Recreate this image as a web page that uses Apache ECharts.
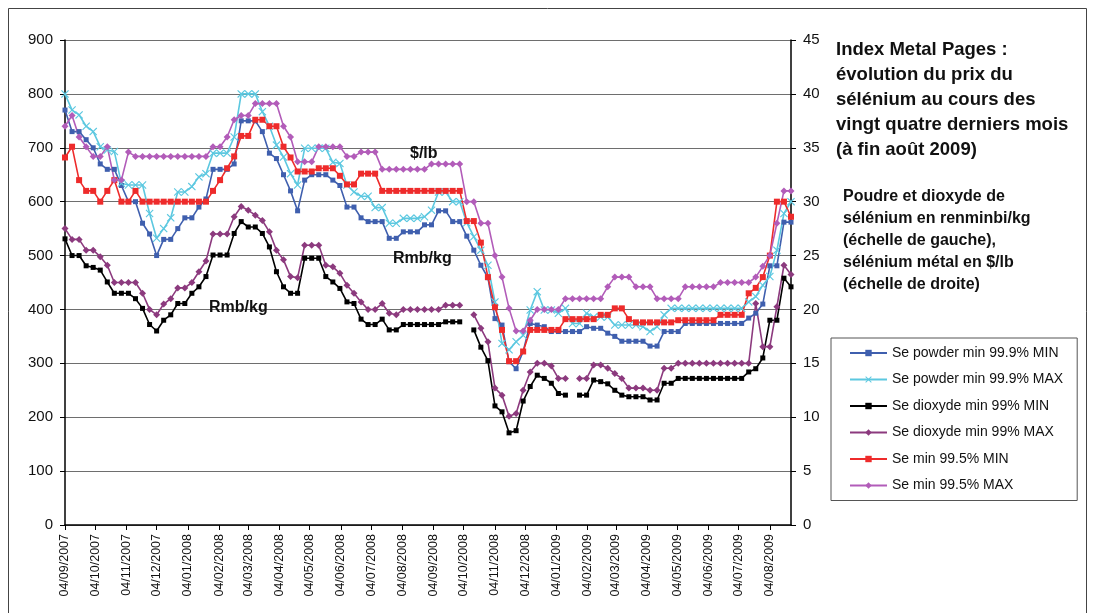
<!DOCTYPE html>
<html>
<head>
<meta charset="utf-8">
<script src="https://cdn.jsdelivr.net/npm/echarts@6/dist/echarts.min.js"></script>
<style>
  html, body { margin: 0; padding: 0; background: #ffffff; }
  #chart { width: 1095px; height: 613px; }
</style>
</head>
<body>
<div id="chart"></div>
<script>
// Weekly selenium quotations, first week 04/09/2007, one value per week.
// Rmb/kg (left scale)
const powderMin = [770,730,730,715,700,670,660,660,630,600, 600,560,540,500,530,530,550,570,570,590,
  605,660,660,660,670,750,750,750,730,690, 680,650,620,583,640,650,650,650,640,630,
  590,590,570,563,563,563,532,532,544,544, 544,557,557,583,583,563,563,536,510,482,
  459,383,371,303,290,322,374,371,368,359, 359,359,359,359,368,365,365,356,350,341,
  341,341,341,332,332,359,359,359,374,374, 374,374,374,374,374,374,374,384,393,410,
  481,481,562,562];
const powderMax = [800,770,761,740,730,702,696,693,634,631, 631,631,578,532,550,570,618,618,628,646,
  652,690,690,690,720,800,800,800,767,740, 705,683,652,631,699,699,699,699,673,671,
  631,618,610,610,589,589,560,560,569,569, 569,572,584,618,618,600,600,561,535,510,
  482,414,337,325,340,352,399,433,399,399, 393,402,374,374,393,386,386,386,371,371,
  371,371,368,359,368,390,402,402,402,402, 402,402,402,402,402,402,402,414,424,445,
  461,510,578,600];
const dioxideMin = [531,500,500,481,478,473,451,430,430,430, 420,402,372,360,380,390,411,411,430,442,
  461,501,501,501,541,563,553,553,541,516, 470,442,430,430,495,495,495,461,451,439,
  414,411,382,372,372,382,362,362,372,372, 372,372,372,372,377,377,377,null,362,330,
  305,221,210,171,175,230,257,278,272,263, 244,241,null,241,241,269,266,262,250,241,
  238,238,238,232,232,263,263,272,272,272, 272,272,272,272,272,272,272,284,290,310,
  380,380,458,442];
const dioxideMax = [550,530,530,510,510,498,482,450,450,450, 450,430,400,390,410,420,440,440,450,470,
  490,540,540,540,572,591,584,575,565,544, 510,492,461,459,519,519,519,482,479,467,
  445,430,414,400,400,411,393,390,400,400, 400,400,400,400,408,408,408,null,390,365,
  340,254,241,202,207,250,284,300,300,295, 272,272,null,272,272,297,297,291,281,272,
  254,254,254,250,250,291,291,300,300,300, 300,300,300,300,300,300,300,300,411,331,
  331,405,482,465];
// $/lb (right scale)
const metalMin = [34.1,35.1,32,31,31,30,31,32,30,30, 31,30,30,30,30,30,30,30,30,30,
  30,31,32,33.1,34.2,36.1,36.1,37.6,37.6,37, 37,35.1,34.1,32.8,32.8,32.8,33.1,33.1,33.1,32.4,
  31.6,31.6,32.6,32.6,32.6,31,31,31,31,31, 31,31,31,31,31,31,31,28.2,28.2,26.2,
  23,20.2,18.1,15.2,15.2,16.1,18.1,18.1,18.1,18.1, 18.1,19.1,19.1,19.1,19.1,19.1,19.5,19.5,20.1,20.1,
  19.1,18.8,18.8,18.8,18.8,18.8,18.8,19,19,19, 19,19,19,19.5,19.5,19.5,19.5,21.5,22,23,
  25,30,30,28.6];
const metalMax = [37,38,36,35.1,34.2,34.2,35.1,32,32,34.6, 34.2,34.2,34.2,34.2,34.2,34.2,34.2,34.2,34.2,34.2,
  34.2,35.1,35.1,36,37.6,38,38,39.1,39.1,39.1, 39.1,37,36,33.7,33.7,33.7,35.1,35.1,35.1,35.1,
  34.2,34.2,34.6,34.6,34.6,33,33,33,33,33, 33,33,33.5,33.5,33.5,33.5,33.5,30,30,28,
  28,25,23,20.1,18,18,19,20,20,20, 20,21,21,21,21,21,21,22.1,23,23,
  23,22.1,22.1,22.1,21,21,21,21,22.1,22.1, 22.1,22.1,22.1,22.5,22.5,22.5,22.5,22.5,23,24,
  25,28,31,31];

const seriesNames = [
  'Se powder min 99.9% MIN', 'Se powder min 99.9% MAX',
  'Se dioxyde min 99% MIN', 'Se dioxyde min 99% MAX',
  'Se min 99.5% MIN', 'Se min 99.5% MAX'
];
const leftTicks = { min: 0, max: 900, step: 100 };
const rightTicks = { min: 0, max: 45, step: 5 };

// Daily date axis: 04/09/2007 .. last weekly quotation
const FIRST_DAY = Date.UTC(2007, 8, 4);
const DAY_MS = 86400000;
const pad = n => (n < 10 ? '0' : '') + n;
function dayLabel(n) {
  const d = new Date(FIRST_DAY + n * DAY_MS);
  return pad(d.getUTCDate()) + '/' + pad(d.getUTCMonth() + 1) + '/' + d.getUTCFullYear();
}
const days = [];
for (let n = 0; n <= (powderMin.length - 1) * 7; n++) days.push(dayLabel(n));
const monthly = (idx, val) => val.slice(0, 3) === '04/';

// weekly values -> [day index, value]
const weekly = values => values.map((v, i) => [i * 7, v == null ? '-' : v]);

const FONT = '"Liberation Sans", Arial, sans-serif';
const CROSS = 'path://M0,1L1,0L5,4L9,0L10,1L6,5L10,9L9,10L5,6L1,10L0,9L4,5Z';

function line(name, values, color, symbol, size, axis) {
  return {
    name, type: 'line', yAxisIndex: axis, data: weekly(values),
    symbol, symbolSize: size, showAllSymbol: true, connectNulls: false,
    lineStyle: { color, width: 1.6 },
    itemStyle: { color, borderWidth: 0 },
    emphasis: { disabled: true }, z: 3
  };
}

const chart = echarts.init(document.getElementById('chart'), null, { renderer: 'canvas' });
chart.setOption({
  animation: false,
  backgroundColor: '#ffffff',
  textStyle: { fontFamily: FONT },
  grid: { left: 65, right: 304, top: 40, bottom: 88 },
  xAxis: {
    type: 'category', data: days, boundaryGap: false,
    axisLine: { lineStyle: { color: '#000', width: 1.5 } },
    axisTick: { interval: monthly, length: 5, lineStyle: { color: '#000' } },
    axisLabel: { interval: monthly, rotate: 90, margin: 9, fontSize: 12.5, color: '#111', fontFamily: FONT },
    splitLine: { show: false }
  },
  yAxis: [
    {
      type: 'value', min: leftTicks.min, max: leftTicks.max, interval: leftTicks.step,
      axisLine: { show: true, lineStyle: { color: '#000', width: 1.5 } },
      axisTick: { show: true, length: 5, lineStyle: { color: '#000' } },
      axisLabel: { fontSize: 15, color: '#111', margin: 12, fontFamily: FONT },
      splitLine: { lineStyle: { color: '#6e6e6e', width: 1.2 } }
    },
    {
      type: 'value', min: rightTicks.min, max: rightTicks.max, interval: rightTicks.step, position: 'right',
      axisLine: { show: true, lineStyle: { color: '#000', width: 1.5 } },
      axisTick: { show: true, length: 5, lineStyle: { color: '#000' } },
      axisLabel: { fontSize: 15, color: '#111', margin: 12, fontFamily: FONT },
      splitLine: { show: false }
    }
  ],
  legend: {
    orient: 'vertical', left: 831, top: 338,
    itemWidth: 37, itemHeight: 8, itemGap: 12.5,
    padding: [8, 14, 8, 18],
    borderColor: '#555', borderWidth: 1, backgroundColor: '#fff',
    textStyle: { fontSize: 14, color: '#111', fontFamily: FONT, lineHeight: 14 },
    data: seriesNames
  },
  series: [
    line(seriesNames[0], powderMin, '#3f5fae', 'rect', 5, 0),
    line(seriesNames[1], powderMax, '#5cc8e0', CROSS, 8, 0),
    line(seriesNames[2], dioxideMin, '#000000', 'rect', 5, 0),
    line(seriesNames[3], dioxideMax, '#8c3a7e', 'diamond', 7, 0),
    line(seriesNames[4], metalMin, '#ee2b2b', 'rect', 6, 1),
    line(seriesNames[5], metalMax, '#b25cb9', 'diamond', 7, 1)
  ],
  graphic: [
    { type: 'rect', silent: true, z: 0,
      shape: { x: 8.5, y: 8.5, width: 1078, height: 700 },
      style: { fill: 'none', stroke: '#444', lineWidth: 1 } },
    { type: 'text', left: 836, top: 37, silent: true,
      style: { text: 'Index Metal Pages :\névolution du prix du\nsélénium au cours des\nvingt quatre derniers mois\n(à fin août 2009)',
        font: 'bold 18.5px ' + FONT, lineHeight: 25, fill: '#111' } },
    { type: 'text', left: 843, top: 186, silent: true,
      style: { text: 'Poudre et dioxyde de\nsélénium en renminbi/kg\n(échelle de gauche),\nsélénium métal en $/lb\n(échelle de droite)',
        font: 'bold 16px ' + FONT, lineHeight: 22, fill: '#111' } },
    { type: 'text', left: 410, top: 146, silent: true, z: 10,
      style: { text: '$/lb', font: 'bold 16px ' + FONT, fill: '#111' } },
    { type: 'text', left: 393, top: 251, silent: true, z: 10,
      style: { text: 'Rmb/kg', font: 'bold 16px ' + FONT, fill: '#111' } },
    { type: 'text', left: 209, top: 300, silent: true, z: 10,
      style: { text: 'Rmb/kg', font: 'bold 16px ' + FONT, fill: '#111' } }
  ]
});
</script>
</body>
</html>
